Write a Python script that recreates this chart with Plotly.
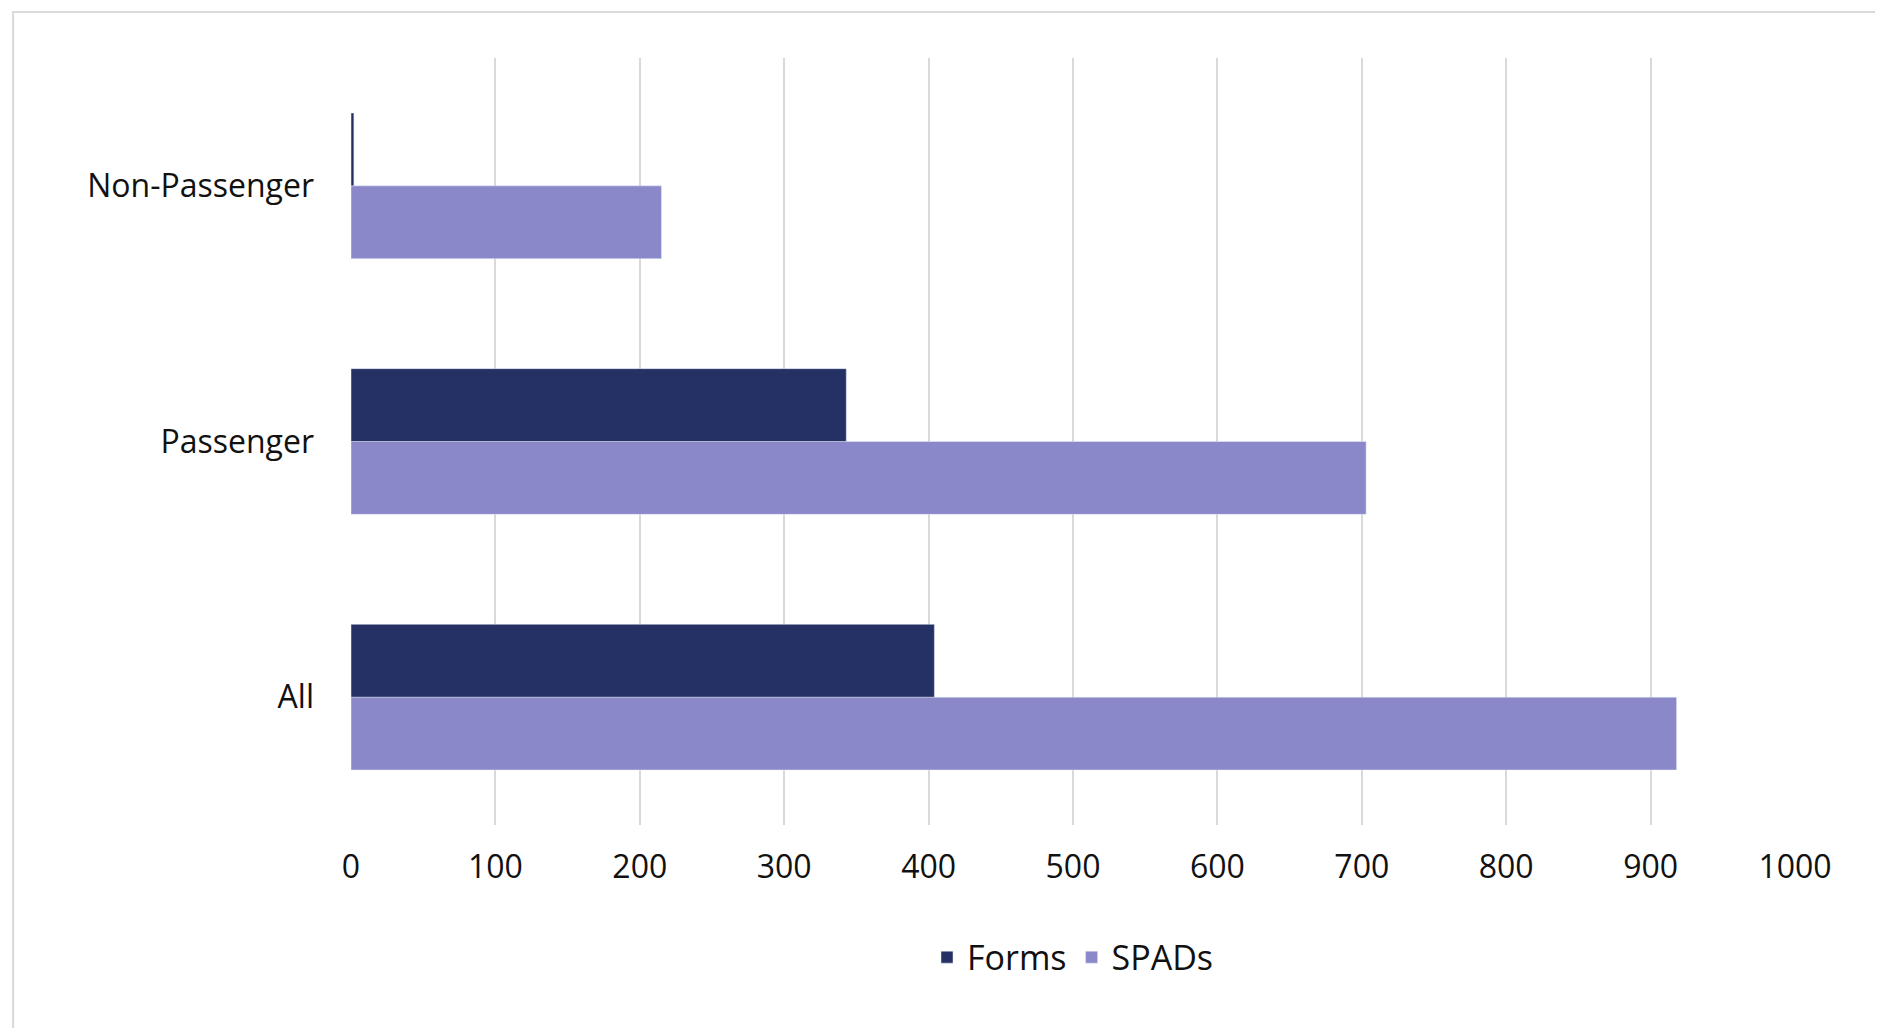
import plotly.graph_objects as go

categories = ["All", "Passenger", "Non-Passenger"]
forms = [404, 343, 2]
spads = [918, 703, 215]

fig = go.Figure()
fig.add_trace(go.Bar(y=categories, x=spads, name="SPADs", orientation="h",
                     marker_color="#8a88c9", legendrank=2))
fig.add_trace(go.Bar(y=categories, x=forms, name="Forms", orientation="h",
                     marker_color="#253165", legendrank=1))

fig.update_layout(
    width=1883, height=1028,
    barmode="group", bargap=0.43, bargroupgap=0,
    plot_bgcolor="white", paper_bgcolor="white",
    font=dict(family="Open Sans", size=32, color="#111111"),
    margin=dict(l=343, r=96, t=50, b=211),
    xaxis=dict(range=[0, 1000], dtick=100, showgrid=True, gridcolor="#d9d9d9",
               gridwidth=2, zeroline=False, ticks="", ticklabelstandoff=20),
    yaxis=dict(showgrid=False, ticks="", ticklabelstandoff=36),
    legend=dict(orientation="h", x=0.5, xanchor="center", y=-0.135, yanchor="top",
                font=dict(size=34)),
    showlegend=True,
)
fig.add_shape(type="rect", xref="paper", yref="paper",
              x0=-0.234, x1=1.058, y0=-0.266, y1=1.06,
              line=dict(color="#d9d9d9", width=2))
fig.write_html("out.html")
